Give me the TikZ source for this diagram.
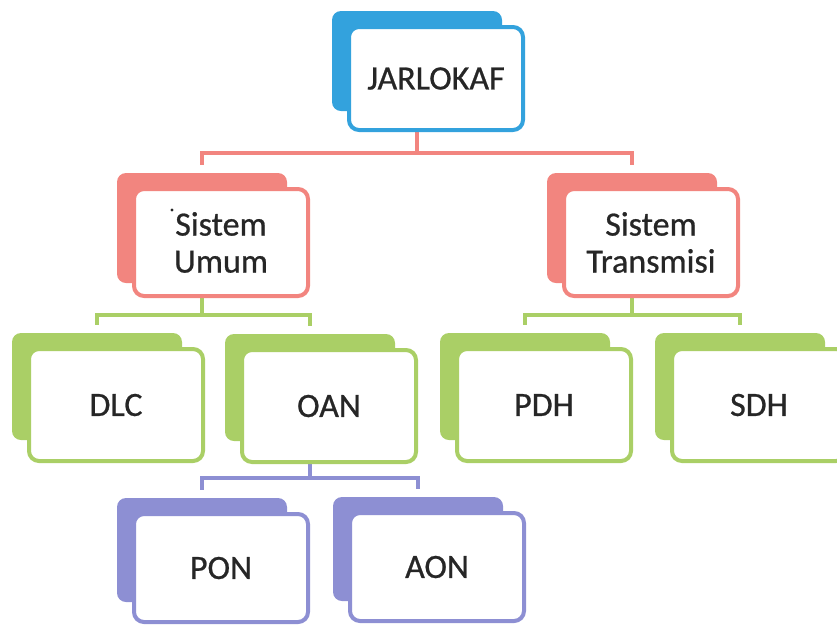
\documentclass[tikz,border=0pt]{standalone}
\usepackage{fontspec}
\setmainfont{Carlito}
\usetikzlibrary{calc}
\definecolor{cblue}{HTML}{33A2DD}
\definecolor{cred}{HTML}{F2857F}
\definecolor{cgreen}{HTML}{AACF66}
\definecolor{cpurple}{HTML}{8D8FD3}
\definecolor{ctext}{HTML}{262626}
\pgfdeclarelayer{bg}
\pgfsetlayers{bg,main}
\tikzset{
  backbox/.style={fill=#1, rounded corners=9pt, minimum width=170pt, inner sep=0pt},
  frontbox/.style={draw=#1, fill=white, line width=4pt, rounded corners=10pt,
    minimum width=174pt, inner sep=0pt, align=center, text=ctext,
    font=\fontsize{34}{37}\selectfont\addfontfeature{FakeBold=0.7}},
  conn/.style={draw=#1, line width=4pt, shorten >=8pt}
}
\newcommand\obox[7]{%
  \node[backbox=#2, minimum height=#5pt] (#1b) at (#3+85, #4+#5/2) {};
  \node[frontbox=#2, minimum height={(#6-4)*1pt}] (#1) at (#3+104, #4+14+#6/2) {#7};
}
\begin{document}
\begin{tikzpicture}[x=1pt, y=-1pt]
\useasboundingbox (0,0) rectangle (837,625);
\clip (0,0) rectangle (837,625);
\obox{J}{cblue}{332}{11}{100}{107}{JARLOKAF}
\obox{SU}{cred}{117}{173}{110}{111}{Sistem\\Umum}
\obox{ST}{cred}{547}{173}{110}{111}{Sistem\\Transmisi}
\obox{DLC}{cgreen}{12}{333}{107}{116}{DLC}
\obox{OAN}{cgreen}{225}{334}{107}{116}{OAN}
\obox{PDH}{cgreen}{440}{333}{107}{116}{PDH}
\obox{SDH}{cgreen}{655}{333}{107}{116}{SDH}
\obox{PON}{cpurple}{117}{498}{104}{112}{PON}
\obox{AON}{cpurple}{333}{497}{104}{112}{AON}
\fill[ctext] (172,210) circle (1.6pt);
\coordinate (rbar) at (0,153);
\coordinate (gbar) at (0,315);
\coordinate (pbar) at (0,478);
\begin{pgfonlayer}{bg}
\draw[conn=cred] (Jb.south) -- (Jb.south |- rbar) -| (SUb.north);
\draw[conn=cred] (Jb.south) -- (Jb.south |- rbar) -| (STb.north);
\draw[conn=cgreen] (SUb.south) -- (SUb.south |- gbar) -| (DLCb.north);
\draw[conn=cgreen] (SUb.south) -- (SUb.south |- gbar) -| (OANb.north);
\draw[conn=cgreen] (STb.south) -- (STb.south |- gbar) -| (PDHb.north);
\draw[conn=cgreen] (STb.south) -- (STb.south |- gbar) -| (SDHb.north);
\draw[conn=cpurple] (OANb.south) -- (OANb.south |- pbar) -| (PONb.north);
\draw[conn=cpurple] (OANb.south) -- (OANb.south |- pbar) -| (AONb.north);
\end{pgfonlayer}
\end{tikzpicture}
\end{document}
